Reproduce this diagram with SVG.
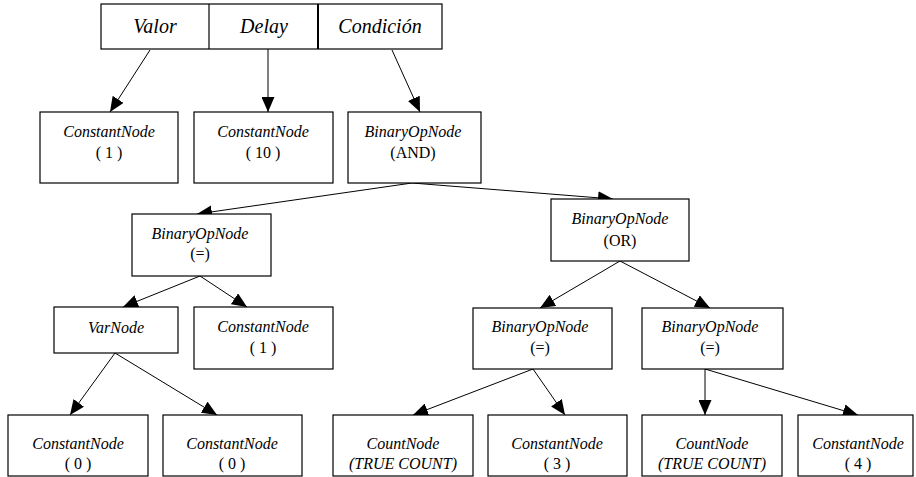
<svg xmlns="http://www.w3.org/2000/svg" width="916" height="477" viewBox="0 0 916 477">
<style>
.box{fill:#fff;stroke:#000;stroke-width:1.2}
.t{font-family:"Liberation Serif",serif;font-size:16px;font-style:italic;text-anchor:middle;fill:#000}
.v{font-family:"Liberation Serif",serif;font-size:16px;text-anchor:middle;fill:#000}
.h{font-family:"Liberation Serif",serif;font-size:20px;font-style:italic;text-anchor:middle;fill:#000}
.c{stroke:#000;stroke-width:1;fill:none;marker-end:url(#ah)}
</style>
<defs>
<marker id="ah" markerUnits="userSpaceOnUse" markerWidth="15" markerHeight="13" refX="15" refY="6.5" orient="auto">
<path d="M0,0 L15,6.5 L0,13 z" fill="#000"/>
</marker>
</defs>
<rect width="916" height="477" fill="#fff"/>
<g id="header">
<rect class="box" x="101" y="4" width="341" height="45"/>
<line x1="209" y1="4" x2="209" y2="49" stroke="#000" stroke-width="1.2"/>
<line x1="318" y1="4" x2="318" y2="49" stroke="#000" stroke-width="2"/>
<text class="h" x="155" y="33">Valor</text>
<text class="h" x="264" y="33">Delay</text>
<text class="h" x="380" y="33">Condición</text>
</g>
<g id="connectors">
<line class="c" x1="150" y1="50" x2="110" y2="112"/>
<line class="c" x1="268" y1="49" x2="268" y2="112"/>
<line class="c" x1="392" y1="50" x2="420" y2="112"/>
<line class="c" x1="412" y1="183" x2="197" y2="214"/>
<line class="c" x1="412" y1="183" x2="613" y2="199"/>
<line class="c" x1="200" y1="276" x2="123" y2="307"/>
<line class="c" x1="200" y1="276" x2="247" y2="307"/>
<line class="c" x1="115" y1="353" x2="70" y2="415"/>
<line class="c" x1="115" y1="353" x2="217" y2="415"/>
<line class="c" x1="620" y1="261" x2="540" y2="308"/>
<line class="c" x1="620" y1="261" x2="710" y2="308"/>
<line class="c" x1="533" y1="369" x2="413" y2="415"/>
<line class="c" x1="533" y1="369" x2="565" y2="415"/>
<line class="c" x1="705" y1="369" x2="705" y2="415"/>
<line class="c" x1="705" y1="369" x2="858" y2="415"/>
</g>
<g id="const1">
<rect class="box" x="40" y="112" width="138" height="71"/>
<text class="t" x="109" y="137">ConstantNode</text>
<text class="v" x="109" y="158">( 1 )</text>
</g>
<g id="const10">
<rect class="box" x="194" y="112" width="139" height="71"/>
<text class="t" x="263" y="137">ConstantNode</text>
<text class="v" x="263" y="158">( 10 )</text>
</g>
<g id="and">
<rect class="box" x="348" y="112" width="133" height="71"/>
<text class="t" x="413" y="137">BinaryOpNode</text>
<text class="v" x="413" y="158">(AND)</text>
</g>
<g id="eq1">
<rect class="box" x="132" y="214" width="139" height="62"/>
<text class="t" x="200" y="239">BinaryOpNode</text>
<text class="v" x="200" y="259">(=)</text>
</g>
<g id="or">
<rect class="box" x="551" y="199" width="138" height="62"/>
<text class="t" x="620" y="224">BinaryOpNode</text>
<text class="v" x="620" y="246">(OR)</text>
</g>
<g id="varnode">
<rect class="box" x="54" y="307" width="124" height="46"/>
<text class="t" x="116" y="333">VarNode</text>
</g>
<g id="const1b">
<rect class="box" x="194" y="307" width="139" height="62"/>
<text class="t" x="263" y="332">ConstantNode</text>
<text class="v" x="263" y="353">( 1 )</text>
</g>
<g id="eq2">
<rect class="box" x="473" y="308" width="139" height="61"/>
<text class="t" x="540" y="332">BinaryOpNode</text>
<text class="v" x="540" y="353">(=)</text>
</g>
<g id="eq3">
<rect class="box" x="642" y="308" width="141" height="61"/>
<text class="t" x="710" y="332">BinaryOpNode</text>
<text class="v" x="710" y="353">(=)</text>
</g>
<g id="const0a">
<rect class="box" x="8" y="415" width="140" height="61"/>
<text class="t" x="78" y="449">ConstantNode</text>
<text class="v" x="78" y="469">( 0 )</text>
</g>
<g id="const0b">
<rect class="box" x="163" y="415" width="139" height="61"/>
<text class="t" x="232" y="449">ConstantNode</text>
<text class="v" x="232" y="469">( 0 )</text>
</g>
<g id="count1">
<rect class="box" x="333" y="415" width="140" height="61"/>
<text class="t" x="403" y="449">CountNode</text>
<text class="t" x="403" y="469">(TRUE COUNT)</text>
</g>
<g id="const3">
<rect class="box" x="488" y="415" width="139" height="61"/>
<text class="t" x="557" y="449">ConstantNode</text>
<text class="v" x="557" y="469">( 3 )</text>
</g>
<g id="count2">
<rect class="box" x="642" y="415" width="140" height="61"/>
<text class="t" x="712" y="449">CountNode</text>
<text class="t" x="712" y="469">(TRUE COUNT)</text>
</g>
<g id="const4">
<rect class="box" x="798" y="415" width="115" height="61"/>
<text class="t" x="858" y="449">ConstantNode</text>
<text class="v" x="858" y="469">( 4 )</text>
</g>
</svg>
